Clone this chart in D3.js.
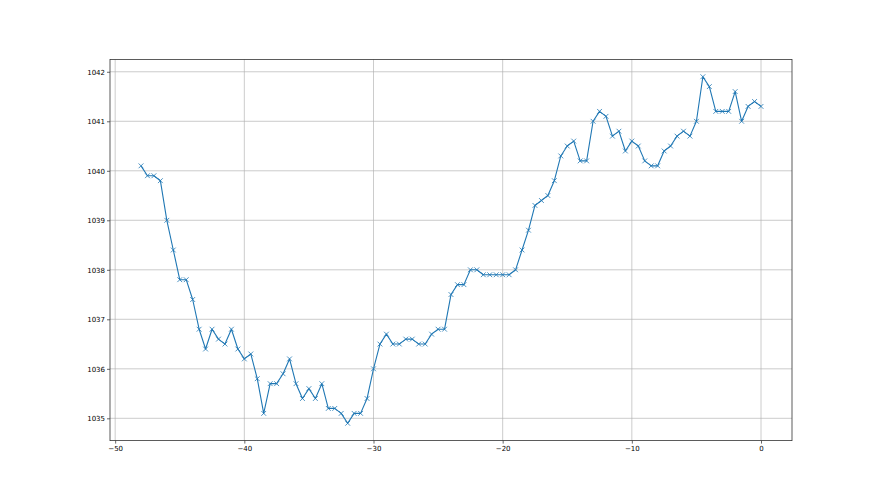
<!DOCTYPE html>
<html><head><meta charset="utf-8">
<script src="https://cdn.jsdelivr.net/npm/d3@7"></script>
<style>body{margin:0;background:#fff}svg{display:block}</style>
</head><body>
<script>
const xValues = [-48,-47.5,-47,-46.5,-46,-45.5,-45,-44.5,-44,-43.5,-43,-42.5,-42,-41.5,-41,-40.5,-40,-39.5,-39,-38.5,-38,-37.5,-37,-36.5,-36,-35.5,-35,-34.5,-34,-33.5,-33,-32.5,-32,-31.5,-31,-30.5,-30,-29.5,-29,-28.5,-28,-27.5,-27,-26.5,-26,-25.5,-25,-24.5,-24,-23.5,-23,-22.5,-22,-21.5,-21,-20.5,-20,-19.5,-19,-18.5,-18,-17.5,-17,-16.5,-16,-15.5,-15,-14.5,-14,-13.5,-13,-12.5,-12,-11.5,-11,-10.5,-10,-9.5,-9,-8.5,-8,-7.5,-7,-6.5,-6,-5.5,-5,-4.5,-4,-3.5,-3,-2.5,-2,-1.5,-1,-0.5,0];
const pressure = [1040.1,1039.9,1039.9,1039.8,1039.0,1038.4,1037.8,1037.8,1037.4,1036.8,1036.4,1036.8,1036.6,1036.5,1036.8,1036.4,1036.2,1036.3,1035.8,1035.1,1035.7,1035.7,1035.9,1036.2,1035.7,1035.4,1035.6,1035.4,1035.7,1035.2,1035.2,1035.1,1034.9,1035.1,1035.1,1035.4,1036.0,1036.5,1036.7,1036.5,1036.5,1036.6,1036.6,1036.5,1036.5,1036.7,1036.8,1036.8,1037.5,1037.7,1037.7,1038.0,1038.0,1037.9,1037.9,1037.9,1037.9,1037.9,1038.0,1038.4,1038.8,1039.3,1039.4,1039.5,1039.8,1040.3,1040.5,1040.6,1040.2,1040.2,1041.0,1041.2,1041.1,1040.7,1040.8,1040.4,1040.6,1040.5,1040.2,1040.1,1040.1,1040.4,1040.5,1040.7,1040.8,1040.7,1041.0,1041.9,1041.7,1041.2,1041.2,1041.2,1041.6,1041.0,1041.3,1041.4,1041.3];
const xTicks = [-50,-40,-30,-20,-10,0];
const yTicks = [1035,1036,1037,1038,1039,1040,1041,1042];

const W = 880, H = 495;
const L = 110, R = 792, T = 59.4, B = 440.6;
const svg = d3.select("body").append("svg").attr("width", W).attr("height", H);

const xMin = d3.min(xValues), xMax = d3.max(xValues);
const yMin = d3.min(pressure), yMax = d3.max(pressure);
const xm = (xMax - xMin) * 0.05, ym = (yMax - yMin) * 0.05;
const x = d3.scaleLinear().domain([xMin - xm, xMax + xm]).range([L, R]);
const y = d3.scaleLinear().domain([yMin - ym, yMax + ym]).range([B, T]);

// grid
const g = svg.append("g");
g.selectAll(".gx").data(xTicks).join("line")
  .attr("x1", d => x(d)).attr("x2", d => x(d)).attr("y1", T).attr("y2", B)
  .attr("stroke", "#b0b0b0").attr("stroke-width", 0.8).attr("opacity", 0.8);
g.selectAll(".gy").data(yTicks).join("line")
  .attr("x1", L).attr("x2", R).attr("y1", d => y(d)).attr("y2", d => y(d))
  .attr("stroke", "#b0b0b0").attr("stroke-width", 0.8).attr("opacity", 0.8);

// line
const line = d3.line().x((d, i) => x(xValues[i])).y(d => y(d));
svg.append("path").datum(pressure).attr("d", line)
  .attr("fill", "none").attr("stroke", "#1f77b4").attr("stroke-width", 1.1)
  .attr("stroke-linejoin", "round");

// markers
const ms = 2.4;
const mk = svg.append("g").attr("stroke", "#1f77b4").attr("stroke-width", 0.8);
pressure.forEach((v, i) => {
  const cx = x(xValues[i]), cy = y(v);
  mk.append("path").attr("d", `M${cx-ms},${cy-ms}L${cx+ms},${cy+ms}M${cx-ms},${cy+ms}L${cx+ms},${cy-ms}`);
});

// axes
const xAxis = d3.axisBottom(x).tickValues(xTicks).tickSize(3).tickPadding(2)
  .tickFormat(d => d < 0 ? "\u2212" + Math.abs(d) : String(d));
const yAxis = d3.axisLeft(y).tickValues(yTicks).tickSize(3).tickPadding(2)
  .tickFormat(d3.format("d"));
const ax = svg.append("g").attr("transform", `translate(0,${B})`).call(xAxis);
const ay = svg.append("g").attr("transform", `translate(${L},0)`).call(yAxis);
[ax, ay].forEach(a => {
  a.select(".domain").remove();
  a.selectAll("text").attr("font-family", "DejaVu Sans").attr("font-size", 7).attr("fill", "#000");
  a.selectAll("line").attr("stroke", "#000").attr("stroke-width", 0.6);
});
svg.append("rect").attr("x", L).attr("y", T).attr("width", R - L).attr("height", B - T)
  .attr("fill", "none").attr("stroke", "#333").attr("stroke-width", 0.8);
</script>
</body></html>
